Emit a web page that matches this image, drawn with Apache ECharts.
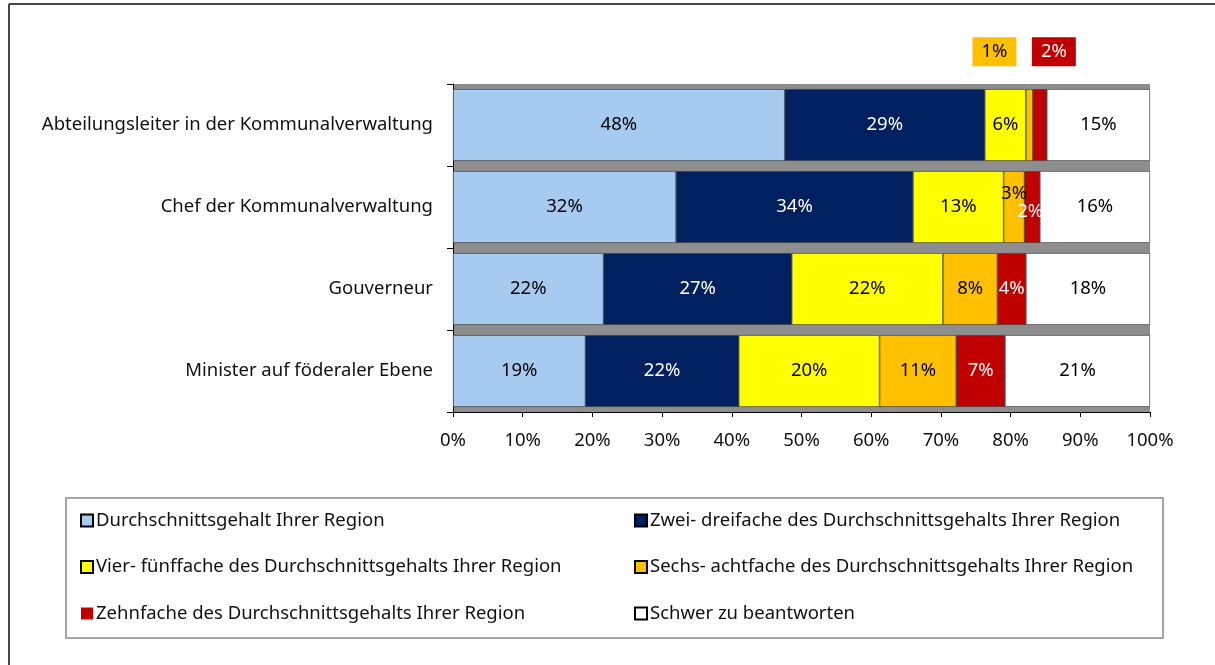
<!DOCTYPE html>
<html><head><meta charset="utf-8">
<script src="https://cdn.jsdelivr.net/npm/echarts@6/dist/echarts.min.js"></script>
<style>html,body{margin:0;padding:0;background:#fff}#c{width:1215px;height:665px}</style>
</head><body><div id="c"></div>
<script>
const categories = ['Abteilungsleiter in der Kommunalverwaltung','Chef der Kommunalverwaltung','Gouverneur','Minister auf föderaler Ebene'];
const seriesNames = ['Durchschnittsgehalt Ihrer Region','Zwei- dreifache des Durchschnittsgehalts Ihrer Region','Vier- fünffache des Durchschnittsgehalts Ihrer Region','Sechs- achtfache des Durchschnittsgehalts Ihrer Region','Zehnfache des Durchschnittsgehalts Ihrer Region','Schwer zu beantworten'];
const durchschnitt = [47.6, 32.0, 21.6, 19.0];
const zweiDrei = [28.7, 34.0, 27.0, 22.0];
const vierFuenf = [5.9, 13.0, 21.7, 20.2];
const sechsAcht = [1.0, 3.0, 7.8, 11.0];
const zehn = [2.0, 2.2, 4.1, 7.0];
const schwer = [14.8, 15.8, 17.8, 20.8];
const xTicks = ['0%','10%','20%','30%','40%','50%','60%','70%','80%','90%','100%'];
const colors = ['#a6caf0','#002060','#ffff00','#ffc000','#c00000','#ffffff'];
const labelColors = ['#000','#fff','#000','#000','#fff','#000'];
const values = [durchschnitt, zweiDrei, vierFuenf, sechsAcht, zehn, schwer];
const FONT = 'Noto Sans';
const FS = 18.5;

const special = {
  3: {0: {position:'top', offset:[-35,-18], backgroundColor:'#ffc000', color:'#000', padding:[5,9]},
      1: {offset:[0,-13]}},
  4: {0: {position:'top', offset:[14,-18], backgroundColor:'#c00000', color:'#fff', padding:[5,9]},
      1: {offset:[-2,5]}}
};

const series = values.map((arr, si) => ({
  name: seriesNames[si],
  type: 'bar',
  stack: 'total',
  barCategoryGap: '12.5%',
  itemStyle: {color: colors[si], borderColor: '#3a3a3a', borderWidth: 0.6},
  label: {show: true, position: 'inside', color: labelColors[si], fontFamily: FONT, fontSize: FS,
          formatter: p => Math.round(p.value) + '%'},
  data: arr.map((v, ci) => {
    const o = {value: v};
    if (special[si] && special[si][ci]) o.label = special[si][ci];
    return o;
  })
}));

const legendLeft = [0,2,4].map(i => ({name: seriesNames[i], itemStyle: i===4 ? {borderWidth:0} : {borderColor:'#000', borderWidth:2}}));
const legendRight = [1,3,5].map(i => ({name: seriesNames[i], itemStyle: {borderColor:'#000', borderWidth:2}}));
const legendCommon = {orient:'vertical', icon:'rect', itemWidth:12, itemHeight:12, itemGap:27.5, padding:0,
  textStyle:{fontFamily:FONT, fontSize:FS, color:'#111', padding:[0,0,0,-2]}, selectedMode:false, top:511};

const chart = echarts.init(document.getElementById('c'));
chart.setOption({
  animation: false,
  grid: {left: 453, right: 65, top: 84, height: 328, show: true, backgroundColor: '#8e8e8e', borderWidth: 0},
  xAxis: {type:'value', min:0, max:100, interval:10,
    axisLine:{show:true, lineStyle:{color:'#000'}}, axisTick:{show:true, length:5, lineStyle:{color:'#000'}},
    splitLine:{show:false},
    axisLabel:{formatter: v => xTicks[Math.round(v/10)], fontFamily:FONT, fontSize:FS, color:'#111', margin:19}},
  yAxis: {type:'category', inverse:true, data:categories,
    axisLine:{show:true, lineStyle:{color:'#000'}}, axisTick:{show:true, length:6, lineStyle:{color:'#000'}},
    axisLabel:{fontFamily:FONT, fontSize:FS, color:'#111', margin:20}},
  legend: [
    Object.assign({left:80, data:legendLeft}, legendCommon),
    Object.assign({left:634, data:legendRight}, legendCommon)
  ],
  graphic: [
    {type:'line', shape:{x1:9, y1:4, x2:9, y2:665}, style:{stroke:'#444', lineWidth:2}},
    {type:'line', shape:{x1:9, y1:4, x2:1215, y2:4}, style:{stroke:'#444', lineWidth:2}},
    {type:'rect', shape:{x:66, y:498, width:1097, height:140}, style:{fill:'none', stroke:'#888', lineWidth:1.5}, z:-1}
  ],
  series: series
});
</script></body></html>
